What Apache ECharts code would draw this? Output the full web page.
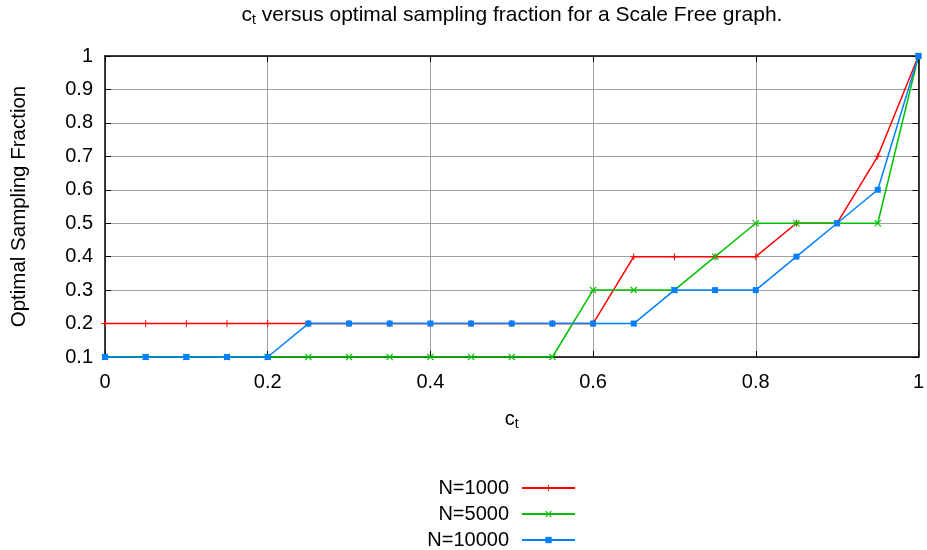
<!DOCTYPE html>
<html>
<head>
<meta charset="utf-8">
<script src="https://cdn.jsdelivr.net/npm/echarts@6/dist/echarts.min.js"></script>
<style>html,body{margin:0;padding:0;background:#fff;}#c{width:927px;height:550px;}</style>
</head>
<body>
<div id="c"></div>
<script>
const ctValues = [0,0.05,0.1,0.15,0.2,0.25,0.3,0.35,0.4,0.45,0.5,0.55,0.6,0.65,0.7,0.75,0.8,0.85,0.9,0.95,1];
const n1000  = [0.2,0.2,0.2,0.2,0.2,0.2,0.2,0.2,0.2,0.2,0.2,0.2,0.2,0.4,0.4,0.4,0.4,0.5,0.5,0.7,1.0];
const n5000  = [0.1,0.1,0.1,0.1,0.1,0.1,0.1,0.1,0.1,0.1,0.1,0.1,0.3,0.3,0.3,0.4,0.5,0.5,0.5,0.5,1.0];
const n10000 = [0.1,0.1,0.1,0.1,0.1,0.2,0.2,0.2,0.2,0.2,0.2,0.2,0.2,0.2,0.3,0.3,0.3,0.4,0.5,0.6,1.0];
const seriesNames = ['N=1000','N=5000','N=10000'];
const seriesColors = ['#ff0000','#00c000','#0080ff'];

const FONT = 'Liberation Sans, Arial, sans-serif';
const FS = 20;
const plusPath = 'path://M4.3,0H5.7V4.3H10V5.7H5.7V10H4.3V5.7H0V4.3H4.3Z';
const crossPath = 'path://M0,1.2L1.2,0L5,3.8L8.8,0L10,1.2L6.2,5L10,8.8L8.8,10L5,6.2L1.2,10L0,8.8L3.8,5Z';
const symbols = [plusPath, crossPath, 'rect'];
const symSizes = [7, 7, 6];
const allData = [n1000, n5000, n10000];

function pairs(ys){ return ctValues.map((x,i)=>[x, ys[i]]); }

const chart = echarts.init(document.getElementById('c'));
const fmt = v => String(Math.round(v*10)/10);

const option = {
  animation: false,
  backgroundColor: '#ffffff',
  title: {
    text: '{c|c}{s|t}{n| versus optimal sampling fraction for a Scale Free graph.}',
    left: 507, top: -2, textAlign: 'center',
    textStyle: {
      fontWeight: 'normal',
      rich: {
        c: {fontFamily: FONT, fontSize: 21, fontWeight: 'normal', color: '#000', lineHeight: 24},
        s: {fontFamily: FONT, fontSize: 14, fontWeight: 'normal', color: '#000', verticalAlign: 'bottom', lineHeight: 12},
        n: {fontFamily: FONT, fontSize: 21, fontWeight: 'normal', color: '#000', lineHeight: 24}
      }
    }
  },
  grid: {left: 105, right: 6, top: 56, bottom: 193, containLabel: false},
  xAxis: [{
    type: 'value', min: 0, max: 1, interval: 0.2, position: 'bottom',
    name: '{c|c}{s|t}', nameLocation: 'middle', nameGap: 50,
    nameTextStyle: {rich: {
      c: {fontFamily: FONT, fontSize: FS, color: '#000', lineHeight: 24},
      s: {fontFamily: FONT, fontSize: 14, color: '#000', verticalAlign: 'bottom', lineHeight: 12}
    }},
    axisLine: {show: true, onZero: false, lineStyle: {color: '#000', width: 1.5}},
    axisTick: {show: true, inside: true, length: 6, lineStyle: {color: '#000'}},
    axisLabel: {fontFamily: FONT, fontSize: FS, color: '#000', margin: 15, formatter: fmt},
    splitLine: {show: true, lineStyle: {color: '#a0a0a0', width: 1}}
  }, {
    type: 'value', min: 0, max: 1, interval: 0.2, position: 'top',
    axisLine: {show: true, onZero: false, lineStyle: {color: '#000', width: 1.5}},
    axisTick: {show: true, inside: true, length: 6, lineStyle: {color: '#000'}},
    axisLabel: {show: false}, splitLine: {show: false}
  }],
  yAxis: [{
    type: 'value', min: 0.1, max: 1, interval: 0.1, position: 'left',
    name: 'Optimal Sampling Fraction', nameLocation: 'middle', nameGap: 75, nameRotate: 90,
    nameTextStyle: {fontFamily: FONT, fontSize: 20.5, color: '#000'},
    axisLine: {show: true, onZero: false, lineStyle: {color: '#000', width: 1.5}},
    axisTick: {show: true, inside: true, length: 6, lineStyle: {color: '#000'}},
    axisLabel: {fontFamily: FONT, fontSize: FS, color: '#000', margin: 12, formatter: fmt},
    splitLine: {show: true, lineStyle: {color: '#a0a0a0', width: 1}}
  }, {
    type: 'value', min: 0.1, max: 1, interval: 0.1, position: 'right',
    axisLine: {show: true, onZero: false, lineStyle: {color: '#000', width: 1.5}},
    axisTick: {show: true, inside: true, length: 6, lineStyle: {color: '#000'}},
    axisLabel: {show: false}, splitLine: {show: false}
  }],
  legend: seriesNames.map((n, i) => ({
    data: [n], orient: 'vertical', right: 346, top: 473 + i*26,
    align: 'right', itemWidth: 53, itemHeight: 8, itemGap: 0,
    textStyle: {fontFamily: FONT, fontSize: FS, color: '#000', padding: [0, 8, 0, 0]}
  })),
  series: seriesNames.map((n, i) => ({
    name: n, type: 'line', data: pairs(allData[i]),
    color: seriesColors[i],
    symbol: symbols[i], symbolSize: symSizes[i], showSymbol: true,
    lineStyle: {width: 1.5, color: seriesColors[i]},
    itemStyle: {color: seriesColors[i]},
    clip: false, z: 2 + i
  }))
};
chart.setOption(option);
</script>
</body>
</html>
